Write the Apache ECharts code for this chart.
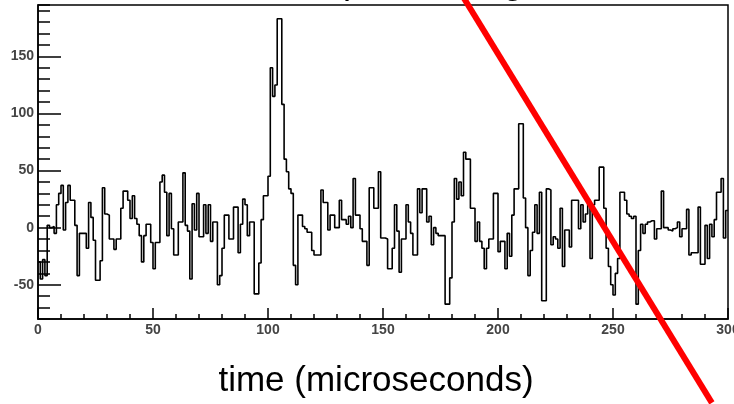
<!DOCTYPE html>
<html><head><meta charset="utf-8">
<script src="https://cdn.jsdelivr.net/npm/echarts@6/dist/echarts.min.js"></script>
<style>html,body{margin:0;padding:0;background:#fff}#c{width:734px;height:404px}</style>
</head><body><div id="c"></div>
<script>
// histogram contents, one value per 1-microsecond bin, starting at t = 0
const binValues = [
  -30, -45, -28, -42, 2, 0, 1, -5, 20, 30,
  37, -2, 22, 37, 24, 24, 2, -42, -5, -5,
  -5, -18, 22, 9, -11, -46, -46, -29, 35, 12,
  11, -10, -10, -19, -10, -10, 17, 32, 32, 24,
  8, 28, 8, 3, -7, -30, -7, 3, 3, -13,
  -36, -13, -13, 40, 46, 31, -7, 30, -1, -24,
  -24, 5, 5, 48, 2, -3, -45, 21, -2, 30,
  -8, -8, 20, -5, 20, -12, 5, 5, -50, -42,
  -18, 11, 11, -10, -10, 18, 18, -22, 3, 25,
  20, -7, 5, 5, -58, -58, -31, 7, 28, 28,
  45, 140, 115, 125, 183, 183, 108, 60, 49, 34,
  30, -33, -50, 11, 11, 1, -1, -4, -4, -20,
  -24, -24, -24, 33, 22, 22, -2, 11, 11, 0,
  0, 24, 7, 7, 3, 10, 0, 43, 11, 11,
  -1, -12, -12, -33, 35, 35, 17, 17, 49, -9,
  -9, -10, -36, -36, -18, 20, -3, -39, -10, -10,
  20, 5, -5, -24, -24, 34, 13, 34, 34, 5,
  10, -15, 0, -5, -7, -7, -7, -67, -67, -44,
  5, 43, 25, 40, 28, 66, 60, 60, 17, 17,
  -12, 5, -12, -18, -36, -18, -10, -10, 30, 30,
  -21, -12, -12, -36, -5, -25, 11, 34, 34, 91,
  91, 26, 0, -42, -20, -4, 20, -5, 31, -64,
  -64, 34, 33, -15, -8, -10, -18, 17, -34, -2,
  -2, -17, 24, 24, 24, -1, 20, 5, 12, 24,
  -27, 20, 24, 24, 53, 53, 17, -18, -34, -50,
  -59, -40, -27, 31, 31, 24, 12, 10, 8, 10,
  -67, -20, 3, -5, 3, 5, 6, 6, -10, -1,
  -1, 32, 0, 0, -2, -3, -1, 0, 5, -8,
  -1, -1, 16, -24, -22, -22, -22, 18, -32, -32,
  2, -27, 3, -8, 7, 31, 31, 43, -9, 15
];
const binStart = 0;
const binWidth = 1;
const xTicks = [0, 50, 100, 150, 200, 250, 300];
const yTicks = [-50, 0, 50, 100, 150];
// red stroke across the chart, in data coordinates (time, value)
const redLineX = [185.2, 293.0];
const redLineY = [200.9, -153.5];
const titleText = 'Test pulse in signal';
const xTitle = 'time (microseconds)';

const histData = binValues.map((v, i) => [binStart + i * binWidth, v]);
histData.push([binStart + binValues.length * binWidth, binValues[binValues.length - 1]]);
const redData = redLineX.map((x, i) => [x, redLineY[i]]);

const chart = echarts.init(document.getElementById('c'), null, {renderer: 'canvas'});
const tickFont = {fontFamily: 'Liberation Sans', fontSize: 14, fontWeight: 'bold', color: '#444'};
chart.setOption({
  animation: false,
  backgroundColor: '#fff',
  title: [
    {text: titleText, left: 267, top: -35, padding: 0,
     textStyle: {fontFamily: 'Liberation Sans', fontSize: 36, fontWeight: 'normal', color: '#000'}},
    {text: xTitle, left: 376, top: 364, padding: 0, textAlign: 'center',
     textStyle: {fontFamily: 'Liberation Sans', fontSize: 35, fontWeight: 'normal', color: '#000'}}
  ],
  grid: {left: 38, right: 6, top: 5, bottom: 85, show: true, borderColor: '#000', borderWidth: 1.5,
         backgroundColor: 'transparent', containLabel: false, outerBoundsMode: 'none'},
  xAxis: {
    type: 'value', min: 0, max: 300, interval: 50,
    axisLine: {onZero: false, lineStyle: {color: '#000', width: 1.5}},
    axisTick: {inside: true, length: 11, lineStyle: {color: '#000', width: 1.5}, customValues: xTicks},
    minorTick: {show: true, splitNumber: 5, length: 5, lineStyle: {color: '#000', width: 1.5}},
    splitLine: {show: false},
    axisLabel: Object.assign({margin: 4, customValues: xTicks, showMaxLabel: true, showMinLabel: true, hideOverlap: false}, tickFont)
  },
  yAxis: [
    {
      type: 'value', min: -80, max: 195, interval: 10, position: 'left',
      axisLine: {show: true, onZero: false, lineStyle: {color: '#000', width: 1.5}},
      axisTick: {inside: true, length: 12, lineStyle: {color: '#000', width: 1.5}},
      splitLine: {show: false},
      axisLabel: Object.assign({margin: 4, customValues: yTicks}, tickFont)
    },
    {
      type: 'value', min: -80, max: 195, interval: 10, position: 'left',
      axisLine: {show: false, onZero: false},
      axisTick: {inside: true, length: 23, lineStyle: {color: '#000', width: 1.5}, customValues: yTicks},
      splitLine: {show: false},
      axisLabel: {show: false}
    }
  ],
  series: [
    {type: 'line', data: histData, step: 'end', symbol: 'none', yAxisIndex: 0,
     lineStyle: {color: '#000', width: 1.6}, clip: true, z: 2},
    {type: 'line', data: redData, symbol: 'none', yAxisIndex: 0,
     lineStyle: {color: '#ff0000', width: 6}, clip: false, z: 5, silent: true}
  ]
});
</script></body></html>
